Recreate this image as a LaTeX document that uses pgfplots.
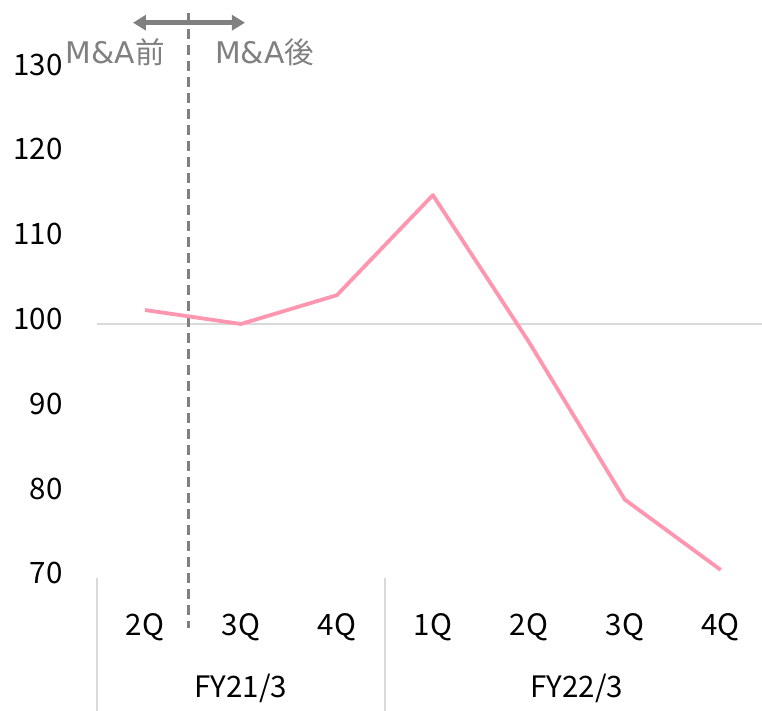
\documentclass[border=0pt]{standalone}
\usepackage{pgfplots}
\pgfplotsset{compat=1.18}
\usepackage{fontspec}
\setmainfont{Noto Sans CJK JP}
\newfontfamily\latinfont{DejaVu Sans}
\usetikzlibrary{arrows.meta}
\definecolor{linepink}{RGB}{255,150,175}
\definecolor{annot}{RGB}{128,128,128}
\definecolor{lgray}{RGB}{217,217,217}
\begin{document}
\begin{tikzpicture}[x=1pt,y=1pt]
\useasboundingbox (0,0) rectangle (762,710);
\begin{axis}[
  at={(97pt,131.6pt)}, anchor=south west,
  width=665pt, height=508.8pt, scale only axis,
  xmin=-0.5, xmax=6.43, ymin=70, ymax=130,
  clip=false,
  axis line style={draw=none},
  tick style={draw=none},
  xtick={0,1,2,3,4,5,6},
  xticklabels={2Q,3Q,4Q,1Q,2Q,3Q,4Q},
  ytick={70,80,90,100,110,120,130},
  font=\fontsize{29.5}{34}\selectfont,
  xticklabel style={inner sep=0pt, anchor=base, yshift=-56.6pt},
  yticklabel style={inner sep=0pt, anchor=east, xshift=-34.3pt, yshift=5pt},
  /pgf/number format/assume math mode=true,
]
\draw[lgray, line width=1.5pt] (axis cs:-0.5,100) -- (axis cs:6.43,100);
% category separators
\draw[lgray, line width=1.5pt] (axis cs:-0.5,70) -- (axis cs:-0.5,54.4);
\draw[lgray, line width=1.5pt] (axis cs:2.5,70) -- (axis cs:2.5,54.4);
% M&A marker
\draw[annot, line width=2.5pt, dash pattern=on 10pt off 6pt] (axis cs:0.451,136.67) -- (axis cs:0.451,64.15);
\draw[annot, line width=5pt, {Triangle[length=13pt,width=15pt]}-{Triangle[length=13pt,width=15pt]}] (axis cs:-0.125,135.53) -- (axis cs:1.042,135.53);
\node[annot, anchor=base east, inner sep=0pt, font=\fontsize{29.5}{34}\selectfont] at (axis cs:0.208,130.74) {{\latinfont\fontsize{29.8}{34}\selectfont M\&A}前};
\node[annot, anchor=base west, inner sep=0pt, font=\fontsize{29.5}{34}\selectfont] at (axis cs:0.729,130.74) {{\latinfont\fontsize{29.8}{34}\selectfont M\&A}後};
% group labels
\node[anchor=base, inner sep=0pt] at (axis cs:1,55.9) {FY21/3};
\node[anchor=base, inner sep=0pt] at (axis cs:4.5,55.9) {FY22/3};
\addplot[linepink, line width=3.8pt, line join=round] coordinates {
  (0,101.65) (1,100.0) (2,103.4) (3,115.2) (4,97.9) (5,79.3) (6,71.0)
};
\end{axis}
\end{tikzpicture}
\end{document}
